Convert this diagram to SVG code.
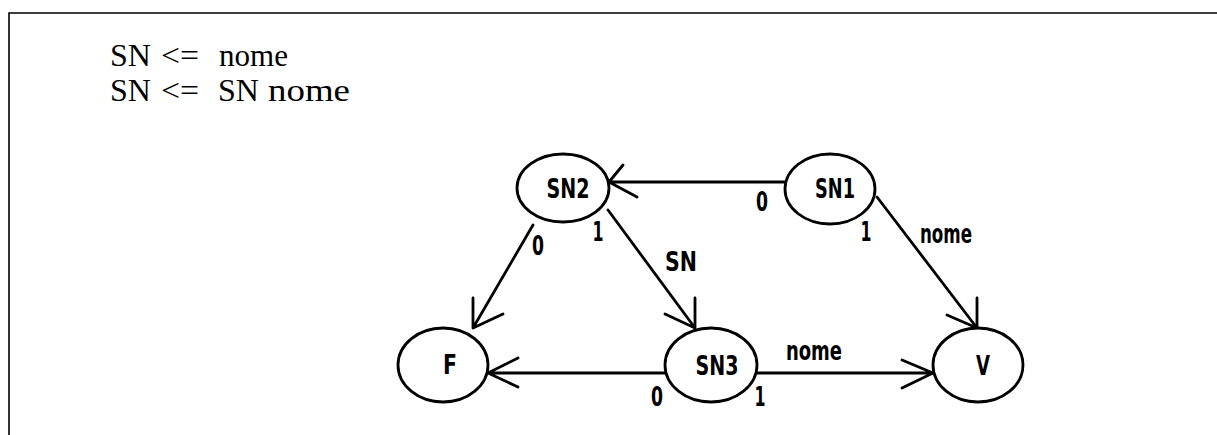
<svg xmlns="http://www.w3.org/2000/svg" width="1217" height="435" viewBox="0 0 1217 435">
<style>
.frame{stroke:#000;stroke-width:1.6;fill:none}
.node{fill:#fff;stroke:#000;stroke-width:2.8}
.edge{stroke:#000;stroke-width:2.8;fill:none;stroke-linecap:round;stroke-linejoin:round}
.lbl{font-family:'DejaVu Sans Condensed','DejaVu Sans',sans-serif;font-stretch:condensed;font-weight:bold;font-size:27px;fill:#000;text-anchor:middle}
.rule{font-family:'Liberation Serif','Times New Roman',serif;font-size:32px;fill:#000}
</style>
<rect width="1217" height="435" fill="#fff"/>
<g id="frame">
<path class="frame" d="M9 435 L9 13 L1217 13"/>
</g>
<g id="rules">
<text class="rule" x="110" y="66">SN</text>
<text class="rule" x="161" y="66" textLength="38" lengthAdjust="spacingAndGlyphs">&lt;=</text>
<text class="rule" x="219" y="66" textLength="69" lengthAdjust="spacingAndGlyphs">nome</text>
<text class="rule" x="110" y="101">SN</text>
<text class="rule" x="161" y="101" textLength="38" lengthAdjust="spacingAndGlyphs">&lt;=</text>
<text class="rule" x="218" y="101">SN</text>
<text class="rule" x="268" y="101" textLength="82" lengthAdjust="spacingAndGlyphs">nome</text>
</g>
<g id="connectors">
<g id="e-sn1-sn2"><path class="edge" d="M785 182 L609 182 M623 165 L609 182 L637 197"/><text class="lbl" x="762" y="211" textLength="12" lengthAdjust="spacingAndGlyphs">0</text></g>
<g id="e-sn1-v"><path class="edge" d="M877 197 L977 328 M977 298 L977 328 L947 315"/><text class="lbl" x="866" y="241" textLength="11" lengthAdjust="spacingAndGlyphs">1</text><text class="lbl" x="946" y="243" textLength="52" lengthAdjust="spacingAndGlyphs">nome</text></g>
<g id="e-sn2-f"><path class="edge" d="M533 225 L473 328 M473 298 L473 328 L503 314"/><text class="lbl" x="538" y="255" textLength="12" lengthAdjust="spacingAndGlyphs">0</text></g>
<g id="e-sn2-sn3"><path class="edge" d="M608 210 L695 328 M695 298 L695 328 L665 314"/><text class="lbl" x="598" y="241" textLength="11" lengthAdjust="spacingAndGlyphs">1</text><text class="lbl" x="681" y="271" textLength="32" lengthAdjust="spacingAndGlyphs">SN</text></g>
<g id="e-sn3-f"><path class="edge" d="M665 373 L488 373 M518 358 L488 373 L518 387"/><text class="lbl" x="657" y="406" textLength="12" lengthAdjust="spacingAndGlyphs">0</text></g>
<g id="e-sn3-v"><path class="edge" d="M757 373 L933 373 M902 360 L933 373 L902 388"/><text class="lbl" x="760" y="406" textLength="11" lengthAdjust="spacingAndGlyphs">1</text><text class="lbl" x="814" y="360" textLength="56" lengthAdjust="spacingAndGlyphs">nome</text></g>
</g>
<g id="node-sn2"><ellipse class="node" cx="563" cy="188" rx="46" ry="34"/><text class="lbl" x="568" y="198" textLength="43" lengthAdjust="spacingAndGlyphs">SN2</text></g>
<g id="node-sn1"><ellipse class="node" cx="830" cy="189" rx="45" ry="35"/><text class="lbl" x="835" y="198" textLength="40" lengthAdjust="spacingAndGlyphs">SN1</text></g>
<g id="node-f"><ellipse class="node" cx="443" cy="365" rx="45" ry="37"/><text class="lbl" x="450" y="374" textLength="14" lengthAdjust="spacingAndGlyphs">F</text></g>
<g id="node-sn3"><ellipse class="node" cx="711" cy="365" rx="46" ry="37"/><text class="lbl" x="717" y="375" textLength="43" lengthAdjust="spacingAndGlyphs">SN3</text></g>
<g id="node-v"><ellipse class="node" cx="978" cy="365" rx="45" ry="37"/><text class="lbl" x="983" y="375" textLength="14" lengthAdjust="spacingAndGlyphs">V</text></g>
</svg>
